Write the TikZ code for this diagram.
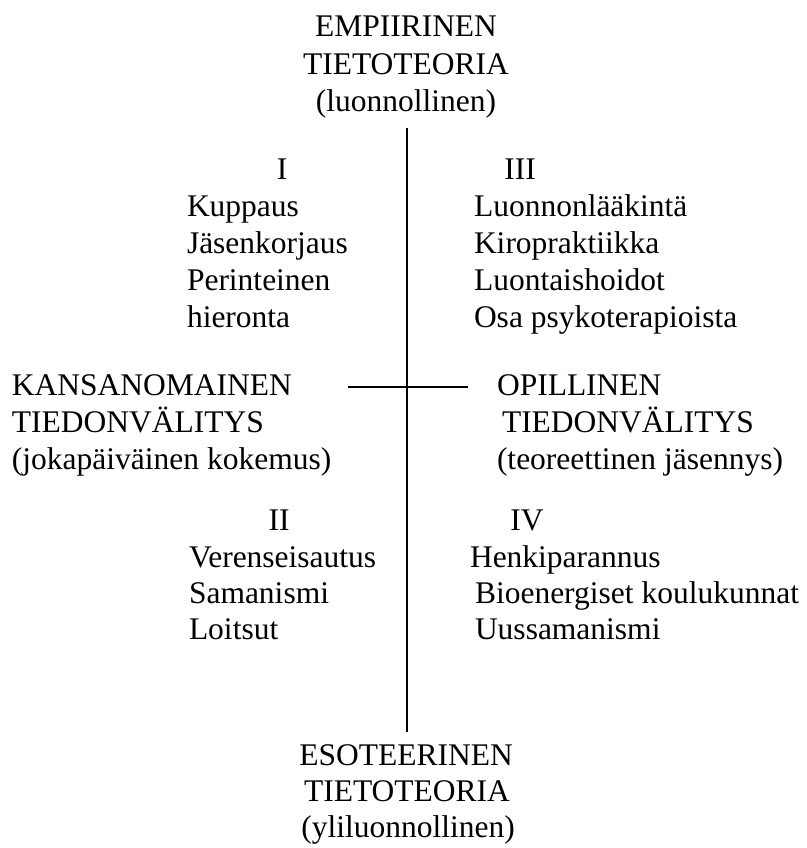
\documentclass[tikz,border=0pt]{standalone}
\usepackage{fontspec}
\setmainfont{Liberation Serif}
\begin{document}
\begin{tikzpicture}[x=1pt,y=-1pt,
  txt/.style={inner sep=0pt,outer sep=0pt,font=\fontsize{31.5}{37}\selectfont},
  lt/.style={txt,anchor=base west},
  ct/.style={txt,anchor=base},
  rule/.style={line width=1.7pt}]
\useasboundingbox (0,0) rectangle (806,848);
% top
\node[ct] (t1) at (406,37) {EMPIIRINEN};
\node[ct] (t2) at (406,75) {TIETOTEORIA};
\node[ct] (t3) at (406,112) {(luonnollinen)};
% quadrant I
\node[ct] (q1) at (282,179) {I};
\node[lt] (q1a) at (187,216) {Kuppaus};
\node[lt] (q1b) at (187,253) {Jäsenkorjaus};
\node[lt] (q1c) at (187,290) {Perinteinen};
\node[lt] (q1d) at (187,327) {hieronta};
% quadrant III
\node[ct] (q3) at (520,179) {III};
\node[lt] (q3a) at (474,216) {Luonnonlääkintä};
\node[lt] (q3b) at (474,253) {Kiropraktiikka};
\node[lt] (q3c) at (474,290) {Luontaishoidot};
\node[lt] (q3d) at (474,327) {Osa psykoterapioista};
% left middle
\node[lt] (l1) at (12,395) {KANSANOMAINEN};
\node[lt] (l2) at (12,432) {TIEDONVÄLITYS};
\node[lt] (l3) at (12,469) {(jokapäiväinen kokemus)};
% right middle
\node[lt] (r1) at (497,395) {OPILLINEN};
\node[lt] (r2) at (502,432) {TIEDONVÄLITYS};
\node[lt] (r3) at (497,469) {(teoreettinen jäsennys)};
% quadrant II
\node[ct] (q2) at (279,530) {II};
\node[lt] (q2a) at (189,567) {Verenseisautus};
\node[lt] (q2b) at (189,603) {Samanismi};
\node[lt] (q2c) at (189,639) {Loitsut};
% quadrant IV
\node[ct] (q4) at (527,530) {IV};
\node[lt] (q4a) at (470,567) {Henkiparannus};
\node[lt] (q4b) at (475,603) {Bioenergiset koulukunnat};
\node[lt] (q4c) at (475,639) {Uussamanismi};
% bottom
\node[ct] (b1) at (406,765) {ESOTEERINEN};
\node[ct] (b2) at (407,801) {TIETOTEORIA};
\node[ct] (b3) at (408,837) {(yliluonnollinen)};
% axes
\coordinate (vtop) at (407,128);
\coordinate (vbot) at (407,732);
\coordinate (hl) at (348,387);
\coordinate (hr) at (468,387);
\draw[rule] (vtop) -- (vbot);
\draw[rule] (hl) -- (hr);
\end{tikzpicture}
\end{document}
